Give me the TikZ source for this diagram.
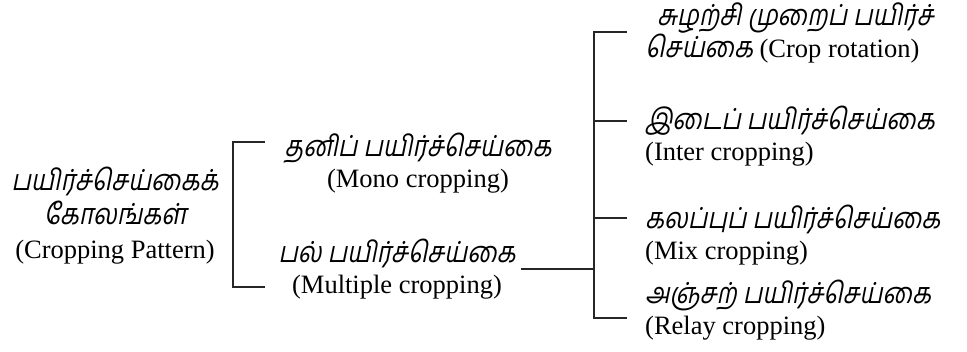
\documentclass[tikz,border=0pt]{standalone}
\usepackage{fontspec}
\setmainfont{Liberation Serif}
\newfontfamily\tamilfont[Script=Tamil,FakeSlant=0.2,FakeStretch=0.85]{Hind Madurai}
\usetikzlibrary{positioning}
\newcommand{\ta}[1]{{\tamilfont\fontsize{29}{31}\selectfont #1}}

\begin{document}
\begin{tikzpicture}[x=1pt,y=-1pt,
    croptext/.style={inner sep=0pt, align=center, font=\fontsize{26.5}{31}\selectfont},
    subtext/.style={croptext, align=left, anchor=west},
    bracket/.style={line width=2.8pt, black!85}]
    \useasboundingbox (0,0) rectangle (967,352);

    % main heading
    \node[croptext, font=\fontsize{26.5}{34}\selectfont] (pattern) at (115,216) {\ta{பயிர்ச்செய்கைக்}\\ \ta{கோலங்கள்}\\ (Cropping Pattern)};

    % first level
    \node[croptext] (mono) at (418,163) {\ta{தனிப் பயிர்ச்செய்கை}\\ (Mono cropping)};
    \node[croptext] (multi) at (397,269) {\ta{பல் பயிர்ச்செய்கை}\\ (Multiple cropping)};

    % second level
    \node[subtext] (rotation) at (645,33) {\hspace*{12pt}\ta{சுழற்சி முறைப் பயிர்ச்}\\ \ta{செய்கை} (Crop rotation)};
    \node[subtext] (inter) at (645,136) {\ta{இடைப் பயிர்ச்செய்கை}\\ (Inter cropping)};
    \node[subtext] (mix) at (645,235) {\ta{கலப்புப் பயிர்ச்செய்கை}\\ (Mix cropping)};
    \node[subtext] (relay) at (645,310) {\ta{அஞ்சற் பயிர்ச்செய்கை}\\ (Relay cropping)};

    % bracket 1
    \coordinate (b1bot) at (233,287);
    \coordinate (monotick) at (265,142);
    \coordinate (multitick) at (265,287);
    \draw[bracket] (monotick) -| (b1bot) -- (multitick);

    % bracket 2
    \coordinate (b2top) at (594,32);
    \coordinate (b2bot) at (594,318);
    \coordinate (rottick) at (627,32);
    \coordinate (intertick) at (627,121);
    \coordinate (mixtick) at (627,218);
    \coordinate (relaytick) at (627,318);
    \draw[bracket] (rottick) -- (b2top) -- (b2bot) -- (relaytick);
    \draw[bracket] (b2top |- intertick) -- (intertick);
    \draw[bracket] (b2top |- mixtick) -- (mixtick);

    % link
    \draw[bracket] ([xshift=5pt]multi.east) -- (multi.east -| b2top);
\end{tikzpicture}
\end{document}
